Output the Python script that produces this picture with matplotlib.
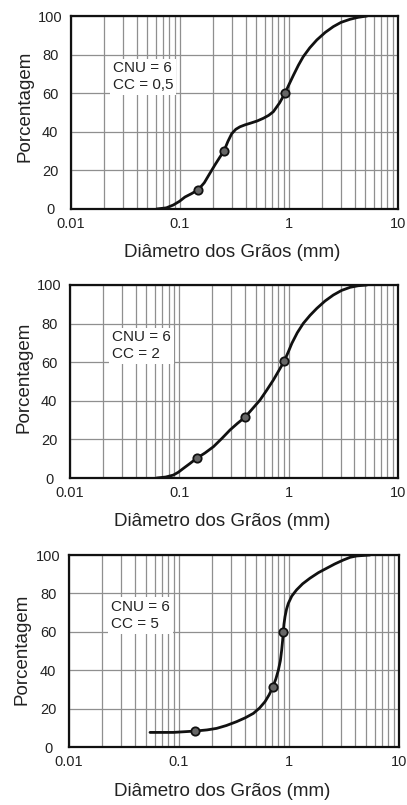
import matplotlib
matplotlib.use("Agg")
import matplotlib.pyplot as plt
from matplotlib.ticker import FixedLocator, NullFormatter, FixedFormatter

plt.rcParams['font.family'] = ['Liberation Sans', 'DejaVu Sans']

# ---- data ----
x_ticks = [0.01, 0.1, 1, 10]
x_ticklabels = ["0.01", "0.1", "1", "10"]
y_ticks = [0, 20, 40, 60, 80, 100]
xlabel = "Diâmetro dos Grãos (mm)"
ylabel = "Porcentagem"

# Panel 1 (CNU = 6, CC = 0,5)
d1 = [0.061, 0.075, 0.087, 0.099, 0.111, 0.128, 0.147, 0.167, 0.188, 0.21, 0.233,
      0.253, 0.275, 0.298, 0.325, 0.355, 0.395, 0.439, 0.51,
      0.581, 0.65, 0.718, 0.82, 0.919, 1.0, 1.10, 1.22, 1.35, 1.55, 1.80, 2.15,
      2.55, 3.0, 3.63, 4.3, 5.2]
p1 = [0, 0.6, 2.1, 4, 6.2, 8.0, 10, 13.6, 18.5, 23, 27,
      30, 35, 39, 41.3, 42.6, 43.6, 44.4, 45.6,
      47, 48.5, 50.4, 55, 60, 64.5, 69.4, 74.5, 78.9, 83.5, 87.6, 91.5,
      94.5, 96.7, 98.3, 99.3, 100]
m1_d = [0.147, 0.253, 0.919]
m1_p = [10, 30, 60]
t1 = "CNU = 6\nCC = 0,5"

# Panel 2 (CNU = 6, CC = 2)
d2 = [0.062, 0.075, 0.088, 0.098, 0.109, 0.125, 0.144, 0.172, 0.205, 0.245, 0.291,
      0.34, 0.399, 0.465, 0.547, 0.63, 0.725, 0.81, 0.908,
      0.99, 1.07, 1.2, 1.36, 1.57, 1.81, 2.15, 2.56, 3.05, 3.65, 4.3, 5.2]
p2 = [0, 0.5, 1.5, 3, 5, 7.5, 10.2, 13, 16.2, 20.5, 24.9,
      28.3, 31.5, 35.8, 40.4, 45.5, 50.8, 55.5, 60.4,
      65.2, 69.8, 75.3, 80.1, 84.3, 87.9, 91.7, 94.8, 97.2, 98.8, 99.6, 100]
m2_d = [0.144, 0.399, 0.908]
m2_p = [10.2, 31.5, 60.4]
t2 = "CNU = 6\nCC = 2"

# Panel 3 (CNU = 6, CC = 5)
d3 = [0.0545, 0.0888, 0.14, 0.18, 0.22, 0.27, 0.334, 0.40, 0.474, 0.54, 0.605, 0.66,
      0.711, 0.76, 0.80, 0.835, 0.858, 0.875,
      0.888, 0.90, 0.92, 0.95, 0.986, 1.06, 1.17, 1.33, 1.55, 1.85, 2.2, 2.6, 3.12,
      3.6, 4.12, 5.45]
p3 = [7.6, 7.6, 8.3, 8.9, 9.7, 11.2, 13.2, 15.2, 17.5, 20.3, 23.6, 27.2,
      31.1, 35.5, 40, 45, 50.5, 55.5,
      60, 64, 67.9, 71.8, 74.8, 78.6, 81.8, 85, 87.9, 90.8, 93.1, 95.3, 97.4,
      98.8, 99.5, 100]
m3_d = [0.14, 0.711, 0.888]
m3_p = [8.3, 31.1, 60]
t3 = "CNU = 6\nCC = 5"

panels = [
    (d1, p1, m1_d, m1_p, t1, [71/407, 1-209/805, 327/407, 193/805], (0.492, -0.223), 0.53),
    (d2, p2, m2_d, m2_p, t2, [70/407, 1-478/805, 328/407, 193/805], (0.463, -0.223), 0.523),
    (d3, p3, m3_d, m3_p, t3, [69/407, 1-747/805, 330/407, 192/805], (0.464, -0.234), 0.51),
]

fig = plt.figure(figsize=(4.07, 8.05), dpi=100)
fig.patch.set_facecolor('white')

minor = [k * 10.0**e for e in (-2, -1, 0) for k in range(2, 10)]

for d, p, md, mp, txt, rect, xl_xy, yl_y in panels:
    ax = fig.add_axes(rect)
    ax.set_xscale('log')
    ax.set_xlim(0.01, 10)
    ax.set_ylim(0, 100)
    ax.xaxis.set_major_locator(FixedLocator(x_ticks))
    ax.xaxis.set_major_formatter(FixedFormatter(x_ticklabels))
    ax.xaxis.set_minor_locator(FixedLocator(minor))
    ax.xaxis.set_minor_formatter(NullFormatter())
    ax.set_yticks(y_ticks)
    ax.grid(True, which='both', axis='x', color='#8f8f8f', linewidth=0.9)
    ax.grid(True, which='major', axis='y', color='#8f8f8f', linewidth=0.9)
    ax.set_axisbelow(True)
    ax.tick_params(which='both', axis='x', length=0, labelsize=10.5, pad=6, colors='#222222')
    ax.tick_params(which='both', axis='y', length=0, labelsize=10.5, pad=15, colors='#222222')
    for lab in ax.get_yticklabels():
        lab.set_ha('center')
    for s in ax.spines.values():
        s.set_linewidth(1.6)
        s.set_color('#111111')
    ax.plot(d, p, color='#111111', linewidth=2.0, solid_capstyle='round',
            solid_joinstyle='round', zorder=3)
    ax.plot(md, mp, linestyle='none', marker='o', markersize=6,
            markerfacecolor='#666666', markeredgecolor='#111111',
            markeredgewidth=1.3, zorder=4)
    ax.text(0.128, 0.765, txt, transform=ax.transAxes, ha='left', va='top',
            fontsize=11, color='#222222', linespacing=1.25,
            bbox=dict(facecolor='white', edgecolor='none', pad=2), zorder=2)
    ax.set_xlabel(xlabel, fontsize=13.5, color='#222222')
    ax.xaxis.label.set_va('center')
    ax.xaxis.set_label_coords(*xl_xy)
    ax.set_ylabel(ylabel, fontsize=13.5, color='#222222')
    ax.yaxis.label.set_va('center')
    ax.yaxis.set_label_coords(-0.141, yl_y)

fig.savefig('out.png', dpi=100, facecolor='white')
